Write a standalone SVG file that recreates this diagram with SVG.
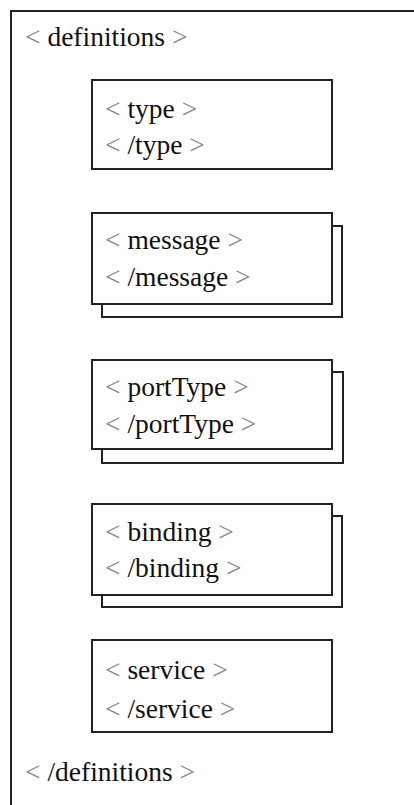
<svg xmlns="http://www.w3.org/2000/svg" width="414" height="805" viewBox="0 0 414 805">
<style>
.box{fill:#fff;stroke:#222;stroke-width:2}
.t{font-family:"Liberation Serif","Times New Roman",serif;font-size:27.5px;fill:#111}
.b{fill:#888}
</style>
<rect x="0" y="0" width="414" height="805" fill="#fff"/>
<g id="definitions">
<rect x="11" y="11" width="420" height="820" fill="none" stroke="#222" stroke-width="2"/>
<text class="t" x="25" y="46"><tspan class="b">&lt;</tspan> definitions <tspan class="b">&gt;</tspan></text>
<text class="t" x="25" y="781"><tspan class="b">&lt;</tspan> /definitions <tspan class="b">&gt;</tspan></text>
</g>
<g id="type">
<rect class="box" x="92" y="80" width="240" height="89"/>
<text class="t" x="105" y="118"><tspan class="b">&lt;</tspan> type <tspan class="b">&gt;</tspan></text>
<text class="t" x="105" y="154"><tspan class="b">&lt;</tspan> /type <tspan class="b">&gt;</tspan></text>
</g>
<g id="message">
<rect class="box" x="102" y="226" width="240" height="91"/>
<rect class="box" x="92" y="213" width="240" height="91"/>
<text class="t" x="105" y="249"><tspan class="b">&lt;</tspan> message <tspan class="b">&gt;</tspan></text>
<text class="t" x="105" y="286"><tspan class="b">&lt;</tspan> /message <tspan class="b">&gt;</tspan></text>
</g>
<g id="portType">
<rect class="box" x="102" y="372" width="241" height="91"/>
<rect class="box" x="92" y="360" width="240" height="89"/>
<text class="t" x="105" y="396"><tspan class="b">&lt;</tspan> portType <tspan class="b">&gt;</tspan></text>
<text class="t" x="105" y="433"><tspan class="b">&lt;</tspan> /portType <tspan class="b">&gt;</tspan></text>
</g>
<g id="binding">
<rect class="box" x="102" y="516" width="240" height="91"/>
<rect class="box" x="92" y="504" width="240" height="91"/>
<text class="t" x="105" y="541"><tspan class="b">&lt;</tspan> binding <tspan class="b">&gt;</tspan></text>
<text class="t" x="105" y="577"><tspan class="b">&lt;</tspan> /binding <tspan class="b">&gt;</tspan></text>
</g>
<g id="service">
<rect class="box" x="92" y="640" width="240" height="92"/>
<text class="t" x="105" y="679"><tspan class="b">&lt;</tspan> service <tspan class="b">&gt;</tspan></text>
<text class="t" x="105" y="718"><tspan class="b">&lt;</tspan> /service <tspan class="b">&gt;</tspan></text>
</g>
<g id="connectors"></g>
</svg>
